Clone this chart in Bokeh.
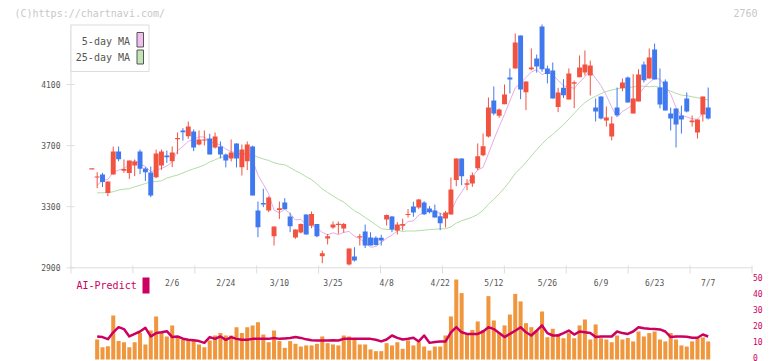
import numpy as np
import pandas as pd
from bokeh.plotting import figure
from bokeh.models import Range1d, ColumnDataSource
from bokeh.core.properties import value
from bokeh.embed import file_html
from bokeh.resources import INLINE

# ---- daily prices, oldest first (bar 0 is the base-price dash) ----
opens = [3544, 3491, 3511, 3389, 3511, 3661, 3535, 3520, 3570, 3661,
         3550, 3524, 3493, 3570, 3635, 3598, 3742, 3799, 3762, 3792,
         3707, 3733, 3746, 3688, 3694, 3642, 3616, 3714, 3559, 3598,
         3694, 3275, 3325, 3275, 3107, 3279, 3327, 3236, 3098, 3131,
         3249, 3177, 3186, 2976, 3092, 3164, 3181, 3157, 2922, 2974,
         3098, 3138, 3098, 3096, 3096, 3216, 3236, 3144, 3175, 3245,
         3301, 3295, 3328, 3288, 3275, 3238, 3223, 3249, 3474, 3616,
         3443, 3452, 3552, 3637, 3760, 3995, 3895, 3971, 4146, 4205,
         4421, 4050, 4200, 4270, 4480, 4205, 4192, 3952, 4078, 4002,
         4105, 4148, 4179, 4159, 3950, 4022, 3864, 3760, 3950, 4076,
         4146, 3910, 3989, 4231, 4139, 4329, 4080, 4120, 3910, 3943,
         3897, 4008, 3853, 3786, 3904, 3949]
highs = [3544, 3526, 3522, 3465, 3694, 3694, 3609, 3602, 3609, 3674,
         3559, 3563, 3674, 3674, 3668, 3694, 3786, 3814, 3858, 3805,
         3799, 3799, 3777, 3786, 3727, 3648, 3740, 3714, 3707, 3727,
         3700, 3334, 3417, 3367, 3170, 3334, 3356, 3260, 3151, 3190,
         3249, 3269, 3186, 3013, 3122, 3203, 3203, 3194, 3026, 3035,
         3122, 3183, 3133, 3107, 3116, 3249, 3240, 3199, 3221, 3284,
         3332, 3351, 3336, 3304, 3314, 3260, 3273, 3491, 3616, 3616,
         3480, 3524, 3714, 3779, 4015, 4087, 3943, 4100, 4205, 4434,
         4421, 4120, 4336, 4296, 4493, 4224, 4244, 4078, 4135, 4205,
         4126, 4290, 4323, 4257, 4008, 4022, 3956, 3891, 4080, 4139,
         4152, 4168, 4200, 4250, 4336, 4368, 4205, 4133, 3949, 3943,
         3962, 4048, 3897, 3871, 4021, 4080]
lows = [3544, 3421, 3428, 3369, 3511, 3598, 3522, 3482, 3500, 3513,
        3469, 3362, 3487, 3541, 3587, 3559, 3644, 3733, 3744, 3664,
        3701, 3701, 3642, 3681, 3616, 3557, 3596, 3557, 3504, 3540,
        3373, 3100, 3297, 3264, 3046, 3220, 3284, 3133, 3090, 3125,
        3118, 3159, 3100, 2930, 3053, 3155, 3122, 3129, 2915, 2941,
        3046, 3029, 3046, 3046, 3046, 3177, 3133, 3118, 3144, 3229,
        3234, 3284, 3245, 3256, 3229, 3146, 3164, 3249, 3434, 3441,
        3408, 3430, 3539, 3630, 3753, 3899, 3882, 3971, 4041, 4205,
        4004, 3932, 4194, 4178, 4183, 4107, 4008, 3919, 4011, 4002,
        3945, 4148, 4159, 4028, 3858, 3871, 3825, 3734, 3891, 4056,
        3982, 3910, 3989, 4113, 4139, 4133, 3943, 3930, 3799, 3688,
        3779, 3917, 3825, 3746, 3858, 3871]
closes = [3544, 3498, 3461, 3465, 3661, 3611, 3546, 3602, 3596, 3548,
          3526, 3373, 3648, 3661, 3624, 3655, 3746, 3788, 3825, 3688,
          3740, 3740, 3642, 3760, 3642, 3602, 3655, 3616, 3674, 3707,
          3373, 3166, 3314, 3360, 3170, 3290, 3284, 3172, 3151, 3186,
          3118, 3253, 3107, 2996, 3107, 3183, 3188, 3186, 3026, 2948,
          3107, 3046, 3046, 3050, 3079, 3245, 3151, 3183, 3186, 3251,
          3262, 3347, 3251, 3264, 3229, 3192, 3262, 3413, 3616, 3500,
          3454, 3506, 3631, 3696, 3949, 3910, 3936, 4034, 4133, 4375,
          4067, 4120, 4211, 4218, 4200, 4168, 4008, 4048, 4030, 4172,
          4115, 4211, 4231, 4224, 3923, 3878, 3884, 3845, 3899, 4113,
          3982, 4008, 4165, 4128, 4277, 4133, 3969, 3930, 3877, 3838,
          3871, 3923, 3864, 3871, 4021, 3877]

# moving-average values on bars 1.. before a full window of closes exists
ma5_lead = [3439, 3472, 3478]
ma25_lead = [3391, 3391, 3393, 3398, 3409, 3415, 3418, 3430, 3440, 3452,
             3462, 3465, 3469, 3487, 3498, 3507, 3521, 3536, 3548, 3559,
             3573, 3593, 3607]

# lower panel, bars 1..115
volume = [12.5, 7.7, 8.3, 27.5, 11.5, 10.8, 7.7, 10.8, 16.5, 9.4,
          18.1, 26.9, 17.1, 14.4, 21.3, 13.9, 12.5, 12.5, 11.5, 9.4,
          7.7, 11.9, 15.0, 16.5, 15.0, 15.0, 20.2, 16.5, 20.2, 21.3,
          23.3, 15.6, 10.8, 18.1, 11.5, 7.3, 11.5, 9.8, 8.1, 8.8,
          8.8, 9.8, 14.4, 10.2, 9.4, 8.8, 15.0, 14.4, 13.3, 9.4,
          9.4, 6.3, 5.2, 5.2, 10.2, 8.8, 10.8, 6.7, 11.9, 8.8,
          10.8, 8.1, 5.6, 8.1, 8.1, 15.0, 26.9, 50.0, 41.5, 16.5,
          18.5, 23.8, 18.5, 39.6, 24.4, 16.7, 21.3, 28.1, 41.0, 36.3,
          22.7, 20.2, 18.5, 30.0, 13.9, 19.2, 16.0, 13.3, 16.5, 13.3,
          21.3, 25.0, 12.5, 21.9, 13.3, 12.5, 10.8, 15.0, 12.5, 13.5,
          11.3, 17.5, 14.4, 16.5, 17.5, 12.5, 11.3, 16.5, 12.5, 8.8,
          8.1, 11.3, 13.3, 13.8, 11.3]
ai_predict = [14.4, 14.0, 12.7, 17.0, 20.2, 19.0, 14.4, 16.0, 17.5, 19.8,
              14.4, 16.5, 17.0, 17.7, 14.0, 14.4, 13.0, 12.3, 12.0, 11.5,
              10.4, 14.0, 12.9, 14.4, 12.3, 14.0, 12.9, 12.3, 12.3, 12.9,
              12.9, 12.9, 12.9, 13.5, 12.9, 13.2, 13.5, 14.0, 13.5, 12.6,
              12.0, 11.9, 11.9, 11.9, 12.0, 11.9, 12.9, 12.9, 12.9, 12.9,
              12.9, 12.9, 12.3, 11.3, 12.5, 15.0, 13.5, 12.5, 13.0, 13.6,
              11.3, 15.0, 10.4, 11.0, 11.3, 11.3, 17.0, 20.2, 17.0, 16.0,
              16.0, 16.0, 17.5, 20.2, 19.0, 16.5, 14.0, 16.0, 18.0, 20.2,
              17.0, 15.0, 18.0, 21.3, 16.5, 15.0, 15.0, 16.5, 18.1, 15.6,
              17.5, 17.0, 16.5, 14.0, 14.4, 14.4, 14.4, 17.5, 16.5, 16.0,
              17.5, 20.2, 19.5, 19.2, 19.0, 18.8, 17.5, 14.0, 14.4, 14.4,
              14.2, 13.6, 13.6, 15.6, 14.4]

date_labels = ["2/6", "2/24", "3/10", "3/25", "4/8", "4/22",
               "5/12", "5/26", "6/9", "6/23", "7/7"]
date_label_bars = [15, 25, 35, 45, 55, 65, 75, 85, 95, 105, 115]
price_ticks = [2900, 3300, 3700, 4100]
score_ticks = [0, 10, 20, 30, 40, 50]

# ---- colours / fonts ----
UP, DOWN = "#f25240", "#4078f0"
MA5_COLOR, MA25_COLOR = "#e2aee6", "#b3dba8"
MA5_FILL, MA25_FILL = "#f0bff0", "#c2e4b6"
VOL_COLOR, AI_COLOR = "#f0963c", "#cc0060"
AXIS_COLOR, TEXT_COLOR, FAINT = "#dddddd", "#555555", "#c8c8c8"
MONO = "DejaVu Sans Mono"

# ---- layout: the plot frame covers the whole 772x361 canvas ----
W, H = 772, 361
BAR0_PX, BAR_PX = 91.3, 5.36            # screen x of bar 0, pixels per bar
AX_LEFT, AX_RIGHT, AX_BOTTOM = 70.5, 752, 268
X_START, X_END = (0 - BAR0_PX) / BAR_PX, (W - BAR0_PX) / BAR_PX
P_BOTTOM, P_TOP = 2286.6, 4649.9
V_BOTTOM, V_TOP = -1.25, 224.375


def data_x(px):
    return X_START + px * (X_END - X_START) / W


def price_y(py):
    return P_TOP - py * (P_TOP - P_BOTTOM) / H


p = figure(width=W, height=H, min_border=0,
           x_range=Range1d(X_START, X_END), y_range=Range1d(P_BOTTOM, P_TOP),
           x_axis_location=None, y_axis_location=None,
           toolbar_location=None, output_backend="svg")
p.extra_y_ranges = {"score": Range1d(V_BOTTOM, V_TOP)}
p.grid.visible = False
p.outline_line_color = None
p.background_fill_color = "white"
p.border_fill_color = "white"

font_kw = dict(text_font=value(MONO), text_baseline="middle")

# ---- price axis (left) ----
p.segment(x0=[data_x(AX_LEFT)], x1=[data_x(AX_LEFT)], y0=[2900], y1=[price_y(24)],
          line_color=AXIS_COLOR, line_width=1)
p.segment(x0=[data_x(66)] * 4, x1=[data_x(74)] * 4, y0=price_ticks, y1=price_ticks,
          line_color=AXIS_COLOR, line_width=1)
p.text(x=[data_x(60)] * 4, y=price_ticks, text=[str(t) for t in price_ticks],
       text_font_size=value("8px"), text_color=TEXT_COLOR, text_align="right", **font_kw)

# ---- time axis under the price panel, with evenly spaced ticks ----
p.segment(x0=[data_x(AX_LEFT)], x1=[data_x(AX_RIGHT)], y0=[2900], y1=[2900],
          line_color=AXIS_COLOR, line_width=1)
tick_px = np.linspace(AX_LEFT, AX_RIGHT - 0.5, 12)
p.segment(x0=data_x(tick_px), x1=data_x(tick_px),
          y0=[price_y(265)] * 12, y1=[price_y(273)] * 12,
          line_color=AXIS_COLOR, line_width=1)
p.text(x=date_label_bars, y=[price_y(282.5)] * len(date_labels), text=date_labels,
       text_font_size=value("8px"), text_color=TEXT_COLOR, text_align="center", **font_kw)

# ---- score axis labels (right of the lower panel) ----
p.text(x=[data_x(AX_RIGHT + 0.5)] * len(score_ticks), y=score_ticks, y_range_name="score",
       text=[str(t) for t in score_ticks], y_offset=-2.5,
       text_font_size=value("8px"), text_color=AI_COLOR, text_align="left", **font_kw)

# ---- lower panel: volume bars and AI-Predict line ----
n = len(closes)
idx = np.arange(n)
sub_x = idx[1:]
p.vbar(x=sub_x, width=0.75, top=volume, bottom=0, y_range_name="score",
       fill_color=VOL_COLOR, line_color=None)
p.line(x=sub_x, y=ai_predict, y_range_name="score", line_color=AI_COLOR,
       line_width=2.5, line_join="round")

# ---- moving averages ----
cs = pd.Series(closes, dtype=float)
ma5 = cs.rolling(5).mean()
ma5.iloc[1:4] = ma5_lead
ma25 = cs.rolling(25).mean()
ma25.iloc[1:24] = ma25_lead
p.line(x=sub_x, y=ma25.values[1:], line_color=MA25_COLOR, line_width=1)
p.line(x=sub_x, y=ma5.values[1:], line_color=MA5_COLOR, line_width=1)

# ---- candlesticks ----
o = np.array(opens, float)
c = np.array(closes, float)
bottom = np.minimum(o, c)
top = np.maximum(np.maximum(o, c), bottom + 7)
colors = np.where(c >= o, UP, DOWN)
src = ColumnDataSource(dict(x=idx, high=highs, low=lows, top=top, bottom=bottom, color=colors))
p.segment(x0="x", x1="x", y0="low", y1="high", line_color="color", line_width=1, source=src)
p.vbar(x="x", width=0.92, top="top", bottom="bottom", fill_color="color",
       line_color=None, source=src)

# ---- legend box (top-left) ----
p.quad(left=[data_x(70.5)], right=[data_x(148.5)], top=[price_y(24.5)], bottom=[price_y(71)],
       fill_color="white", line_color=AXIS_COLOR, line_width=1)
p.quad(left=[data_x(136.5), data_x(136.5)], right=[data_x(143), data_x(143)],
       top=[price_y(32), price_y(49.5)], bottom=[price_y(46.5), price_y(63.5)],
       fill_color=[MA5_FILL, MA25_FILL], line_color=TEXT_COLOR, line_width=1)
p.text(x=[data_x(129.5)] * 2, y=[price_y(40.7), price_y(57.3)],
       text=["5-day MA", "25-day MA"], text_font_size=value("10px"),
       text_color=TEXT_COLOR, text_align="right", **font_kw)

# ---- AI-Predict caption ----
p.text(x=[data_x(76)], y=[price_y(285)], text=["AI-Predict"],
       text_font_size=value("10px"), text_color=AI_COLOR, text_align="left", **font_kw)
p.quad(left=[data_x(142)], right=[data_x(149)], top=[price_y(277)], bottom=[price_y(293)],
       fill_color=AI_COLOR, line_color=None)

# ---- header texts ----
p.text(x=[data_x(14)], y=[price_y(12.5)], text=["(C)https://chartnavi.com/"],
       text_font_size=value("10px"), text_color=FAINT, text_align="left", **font_kw)
p.text(x=[data_x(757)], y=[price_y(12.5)], text=["2760"],
       text_font_size=value("10px"), text_color=FAINT, text_align="right", **font_kw)

open("out.html", "w").write(file_html(p, INLINE))
